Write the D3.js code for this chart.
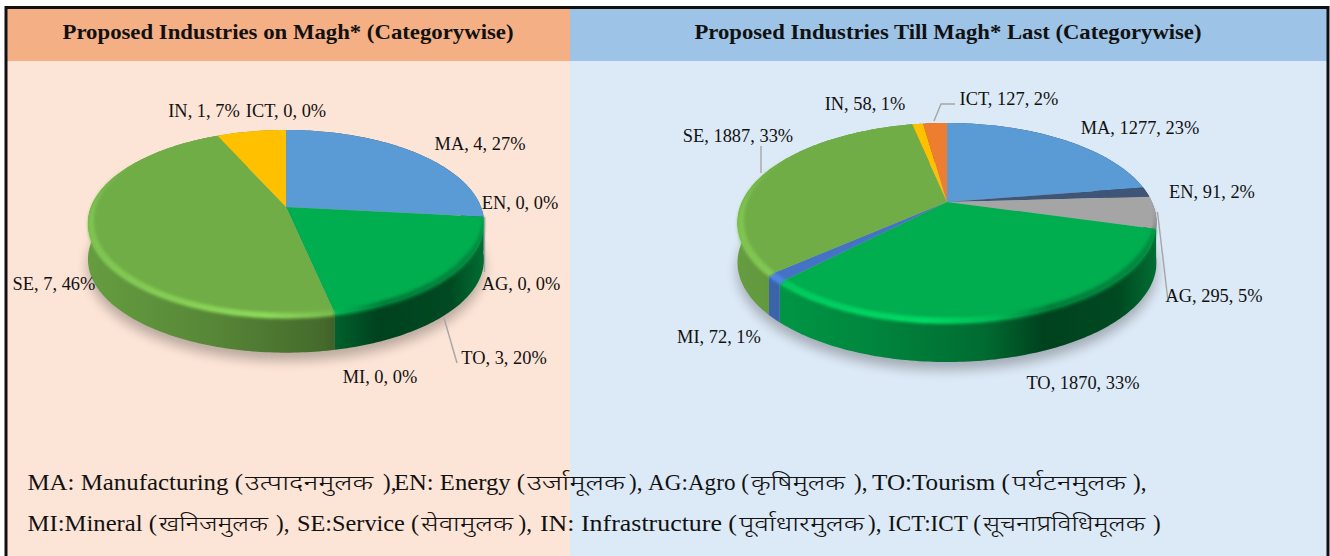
<!DOCTYPE html>
<html lang="en">
<head>
<meta charset="UTF-8">
<title>Proposed Industries</title>
<script src="https://d3js.org/d3.v7.min.js"></script>
<style>
  html, body { margin: 0; padding: 0; background: #fff; }
  svg { display: block; }
  text { font-family: "Liberation Serif", "Noto Sans", serif; fill: #111; }
  .dev { font-family: "Noto Sans", "Noto Sans CJK SC", serif; font-weight: 300; }
</style>
</head>
<body>
<div class="main"></div>
<script>
  // data
  const codes = ["MA", "EN", "AG", "TO", "MI", "SE", "IN", "ICT"];
  const monthValues = [4, 0, 0, 3, 0, 7, 1, 0];
  const monthPercents = [27, 0, 0, 20, 0, 46, 7, 0];
  const totalValues = [1277, 91, 295, 1870, 72, 1887, 58, 127];
  const totalPercents = [23, 2, 5, 33, 1, 33, 1, 2];
  const sliceColors = ["#5b9bd5", "#3f5578", "#a5a5a5", "#00ad4f", "#4472c4", "#70ad47", "#ffc000", "#ed7d31"];

  const monthTitle = "Proposed Industries on Magh* (Categorywise)";
  const totalTitle = "Proposed Industries Till Magh* Last (Categorywise)";

  const legendEnglish = [
    ["MA: Manufacturing (", "EN: Energy (", "AG:Agro (", "TO:Tourism ("],
    ["MI:Mineral (", "SE:Service (", "IN: Infrastructure (", "ICT:ICT ("]
  ];
  const legendNepali = [
    ["उत्पादनमुलक", "उर्जामूलक", "कृषिमुलक", "पर्यटनमुलक"],
    ["खनिजमुलक", "सेवामुलक", "पूर्वाधारमुलक", "सूचनाप्रविधिमूलक"]
  ];
  const legendClose = [
    ["),", "),", "),", "),"],
    ["),", "),", "),", ")"]
  ];

  // layout, kept apart from the values: [x, y] centre of each data label
  const monthLabelAt = [[480, 144], [520, 203], [521, 284], [504, 358], [380, 377], [54, 284], [204, 111], [286, 111]];
  const totalLabelAt = [[1140, 128], [1212, 192], [1214, 296], [1083, 383], [719, 337], [738, 136], [865, 104], [1009, 99]];
  const monthLeaders = [[[484.5, 217], [484.5, 272]], [[444, 318], [457, 363]]];
  const totalLeaders = [[[955, 104], [941, 104], [934, 121]], [[761, 146], [761, 173]], [[1157.5, 212], [1168, 301]]];

  // english start, english end, nepali start, nepali end, bracket start
  const legendAt = [
    [[27.5, 243, 245, 373, 383], [394, 525, 527, 625, 629], [648, 749, 751, 845, 854], [872, 1010, 1012, 1126, 1133]],
    [[27.5, 157, 159, 268, 276], [297, 419, 421, 513, 518.5], [540, 737, 739, 864, 868], [888, 981, 983, 1145, 1153]]
  ];

  const width = 1330, height = 556;
  const svg = d3.select(".main").append("svg").attr("width", width).attr("height", height);
  const defs = svg.append("defs");

  defs.append("filter").attr("id", "shadowBlur").attr("x", "-20%").attr("y", "-20%").attr("width", "140%").attr("height", "140%")
      .append("feGaussianBlur").attr("stdDeviation", 6);
  defs.append("filter").attr("id", "rimBlur").attr("x", "-10%").attr("y", "-30%").attr("width", "120%").attr("height", "160%")
      .append("feGaussianBlur").attr("stdDeviation", 1.6);

  // panels
  svg.append("rect").attr("x", 7).attr("y", 8).attr("width", 563).attr("height", 548).attr("fill", "#fce4d6");
  svg.append("rect").attr("x", 570).attr("y", 8).attr("width", 757).attr("height", 548).attr("fill", "#dce9f6");
  svg.append("rect").attr("x", 7).attr("y", 8).attr("width", 563).attr("height", 53).attr("fill", "#f4b084");
  svg.append("rect").attr("x", 570).attr("y", 8).attr("width", 757).attr("height", 53).attr("fill", "#9dc3e6");
  svg.append("path").attr("d", "M6,556V7.5H1328V556").attr("fill", "none").attr("stroke", "#111").attr("stroke-width", 3);

  svg.append("text").attr("x", 288).attr("y", 39).attr("text-anchor", "middle").attr("font-weight", "bold")
      .attr("font-size", 21).attr("textLength", 451).attr("lengthAdjust", "spacingAndGlyphs").text(monthTitle);
  svg.append("text").attr("x", 948).attr("y", 39).attr("text-anchor", "middle").attr("font-weight", "bold")
      .attr("font-size", 21).attr("textLength", 507).attr("lengthAdjust", "spacingAndGlyphs").text(totalTitle);

  const degrees = Math.PI / 180;

  function drawPie(id, values, percents, labelAt, leaders, geo) {
    const arcs = d3.pie().sort(null)(values);
    const g = svg.append("g");

    // the disc seen in perspective: nearer edge is drawn larger
    const project = (angle, drop = 0, s = 1) => {
      const u = s * Math.sin(angle), v = -s * Math.cos(angle), w = 1 - geo.k * v;
      return [geo.x + geo.a * u / w, geo.y + geo.b * v / w + drop];
    };
    const steps = (a0, a1) => {
      const n = Math.max(2, Math.ceil((a1 - a0) / (1 * degrees)));
      return d3.range(n + 1).map(i => a0 + (a1 - a0) * i / n);
    };
    const edge = (a0, a1, drop = 0, s = 1) => steps(a0, a1).map(a => project(a, drop, s));
    const line = d3.line();

    // soft shadow under the disc
    g.append("path")
        .attr("d", line(edge(0, 2 * Math.PI, geo.depth + 8)) + "Z")
        .attr("fill", "#000").attr("opacity", 0.26)
        .attr("filter", "url(#shadowBlur)");

    const shown = arcs.map((d, i) => ({ d, i })).filter(e => e.d.endAngle > e.d.startAngle);

    // side wall, dark towards the right
    const shade = d3.scaleLinear()
        .domain([0, 0.3, 0.58, 0.72, 0.9, 1])
        .range([0.9, 0.78, 0.62, 0.38, 0.42, 0.66]);
    shown.forEach(({ d, i }) => {
      const gradId = id + "side" + i;
      const grad = defs.append("linearGradient").attr("id", gradId).attr("gradientUnits", "userSpaceOnUse")
          .attr("x1", geo.x - geo.a).attr("x2", geo.x + geo.a * 1.04).attr("y1", 0).attr("y2", 0);
      shade.domain().forEach(t => {
        const c = d3.rgb(sliceColors[i]);
        const f = shade(t);
        grad.append("stop").attr("offset", t).attr("stop-color", d3.rgb(c.r * f, c.g * f, c.b * f).formatHex());
      });
      const top = edge(d.startAngle, d.endAngle);
      const bottom = edge(d.startAngle, d.endAngle, geo.depth).reverse();
      g.append("path").attr("d", line(top.concat(bottom)) + "Z").attr("fill", `url(#${gradId})`);
    });

    // top face
    g.selectAll("path.face").data(shown).join("path").attr("class", "face")
        .attr("d", e => line([[geo.x, geo.y]].concat(edge(e.d.startAngle, e.d.endAngle))) + "Z")
        .attr("fill", e => sliceColors[e.i]);

    // bevel along the near edge of the face, thinning out at both ends
    const rimFrom = 92 * degrees, rimTo = 305 * degrees;
    const taper = a => Math.min(1, (a - rimFrom) / (30 * degrees), (rimTo - a) / (45 * degrees));
    shown.forEach(({ d, i }) => {
      const a0 = Math.max(d.startAngle, rimFrom), a1 = Math.min(d.endAngle, rimTo);
      if (a1 <= a0) return;
      const c = d3.rgb(sliceColors[i]);
      const gradId = id + "rim" + i;
      const grad = defs.append("linearGradient").attr("id", gradId).attr("gradientUnits", "userSpaceOnUse")
          .attr("x1", geo.x - geo.a).attr("x2", geo.x + geo.a).attr("y1", 0).attr("y2", 0);
      grad.append("stop").attr("offset", 0).attr("stop-color", c.brighter(0.35).formatHex());
      grad.append("stop").attr("offset", 0.45).attr("stop-color", c.brighter(0.65).formatHex());
      grad.append("stop").attr("offset", 0.62).attr("stop-color", c.brighter(0.2).formatHex());
      grad.append("stop").attr("offset", 0.75).attr("stop-color", c.darker(0.9).formatHex());
      grad.append("stop").attr("offset", 1).attr("stop-color", c.darker(0.6).formatHex());
      const outer = steps(a0, a1).map(a => project(a, 2 * taper(a)));
      const inner = steps(a0, a1).map(a => project(a, 0, 1 - 0.03 * taper(a))).reverse();
      g.append("path").attr("d", line(outer.concat(inner)) + "Z")
          .attr("fill", `url(#${gradId})`).attr("filter", "url(#rimBlur)");
    });

    // labels and leaders
    leaders.forEach(pts => {
      g.append("path").attr("d", line(pts)).attr("fill", "none").attr("stroke", "#a6a6a6").attr("stroke-width", 1.4);
    });
    codes.forEach((code, i) => {
      g.append("text").attr("x", labelAt[i][0]).attr("y", labelAt[i][1] + 6)
          .attr("text-anchor", "middle").attr("font-size", 18.4)
          .text(`${code}, ${values[i]}, ${percents[i]}%`);
    });
  }

  drawPie("month", monthValues, monthPercents, monthLabelAt, monthLeaders,
      { x: 286, y: 207, a: 195, b: 90.5, k: 0.175, depth: 36 });
  drawPie("total", totalValues, totalPercents, totalLabelAt, totalLeaders,
      { x: 947, y: 202, a: 205, b: 95.3, k: 0.206, depth: 40 });

  // legend, two lines of english with the nepali name in brackets
  const legendBase = [490, 531];
  legendEnglish.forEach((row, r) => {
    row.forEach((label, c) => {
      const at = legendAt[r][c];
      svg.append("text").attr("x", at[0]).attr("y", legendBase[r]).attr("font-size", 23)
          .attr("textLength", at[1] - at[0]).attr("lengthAdjust", "spacingAndGlyphs").text(label);
      svg.append("text").attr("class", "dev").attr("x", at[2]).attr("y", legendBase[r]).attr("font-size", 21)
          .attr("textLength", at[3] - at[2]).attr("lengthAdjust", "spacingAndGlyphs").text(legendNepali[r][c]);
      svg.append("text").attr("x", at[4]).attr("y", legendBase[r]).attr("font-size", 23).text(legendClose[r][c]);
    });
  });
</script>
</body>
</html>
